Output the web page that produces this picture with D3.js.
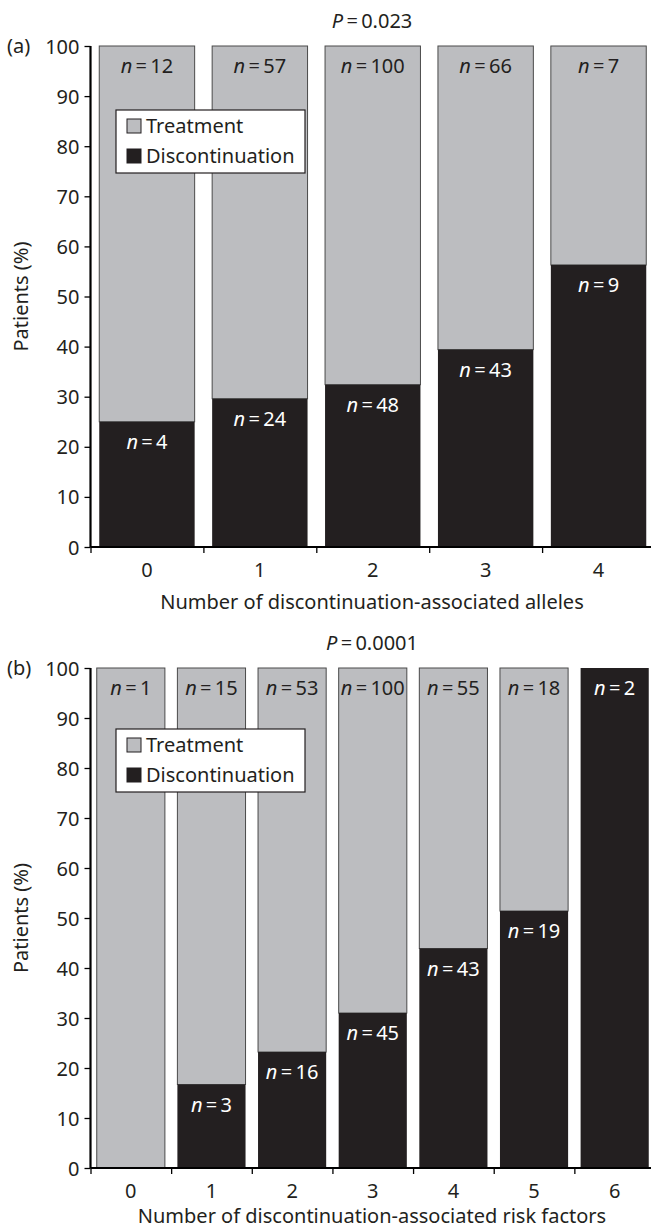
<!DOCTYPE html>
<html>
<head>
<meta charset="utf-8">
<script src="https://cdn.jsdelivr.net/npm/d3@7"></script>
<style>
  body { margin: 0; background: #fff; }
  svg text { font-family: "Noto Sans", "Open Sans", sans-serif; fill: #231f20; }
</style>
</head>
<body>
<svg id="chart" width="651" height="1230"></svg>
<script>
// panel (a): alleles
const allelesCategories = ["0", "1", "2", "3", "4"];
const allelesDiscontinuation = [25, 29.6, 32.4, 39.4, 56.3];
const allelesTreatmentN = [12, 57, 100, 66, 7];
const allelesDiscontinuationN = [4, 24, 48, 43, 9];

// panel (b): risk factors
const riskCategories = ["0", "1", "2", "3", "4", "5", "6"];
const riskDiscontinuation = [0, 16.7, 23.2, 31.0, 43.9, 51.4, 100];
const riskTreatmentN = [1, 15, 53, 100, 55, 18, null];
const riskDiscontinuationN = [null, 3, 16, 45, 43, 19, 2];

const yTicks = [0, 10, 20, 30, 40, 50, 60, 70, 80, 90, 100];
const legendLabels = ["Treatment", "Discontinuation"];

const grey = "#bcbdc0", black = "#231f20";
const eq = "\u2009=\u2009";

const svg = d3.select("#chart");

function nLabel(sel, n) {
  sel.append("tspan").attr("font-style", "italic").text("n");
  sel.append("tspan").text(eq + n);
}

function drawPanel(opt) {
  const g = svg.append("g");
  let x = d3.scaleBand()
      .domain(opt.categories)
      .range([90.5, 655])
      .paddingInner(0.155)
      .paddingOuter(0.0775);
  let xb = d3.scaleLinear().domain([0, opt.categories.length]).range([90.5, 655]);
  let y = d3.scaleLinear().domain([0, 100]).range([opt.bottom, opt.top]);

  let rows = opt.categories.map((c, i) => ({
    cat: c, disc: opt.disc[i], tn: opt.treatN[i], dn: opt.discN[i]
  }));

  // treatment (grey) part
  g.selectAll(".treat")
    .data(rows.filter(d => d.disc < 100))
    .enter().append("rect")
    .attr("x", d => x(d.cat))
    .attr("width", x.bandwidth())
    .attr("y", y(100))
    .attr("height", d => y(d.disc) - y(100))
    .attr("fill", grey)
    .attr("stroke", "#4a4a4a")
    .attr("stroke-width", 1);

  // discontinuation (black) part
  g.selectAll(".disc")
    .data(rows.filter(d => d.disc > 0))
    .enter().append("rect")
    .attr("x", d => x(d.cat))
    .attr("width", x.bandwidth())
    .attr("y", d => y(d.disc))
    .attr("height", d => y(0) - y(d.disc))
    .attr("fill", black);

  // n labels
  g.selectAll(".tn")
    .data(rows.filter(d => d.tn != null))
    .enter().append("text")
    .attr("x", d => x(d.cat) + x.bandwidth() / 2)
    .attr("y", y(100) + 27)
    .attr("text-anchor", "middle")
    .attr("font-size", 20)
    .each(function(d) { nLabel(d3.select(this), d.tn); });

  g.selectAll(".dn")
    .data(rows.filter(d => d.dn != null))
    .enter().append("text")
    .attr("x", d => x(d.cat) + x.bandwidth() / 2)
    .attr("y", d => y(d.disc) + 27)
    .attr("text-anchor", "middle")
    .attr("font-size", 20)
    .style("fill", "#fff")
    .each(function(d) { nLabel(d3.select(this), d.dn); });

  // axes
  let ya = g.append("g")
    .attr("transform", "translate(90.5,0)")
    .call(d3.axisLeft(y).tickValues(yTicks).tickSize(6).tickPadding(5));
  ya.select(".domain").attr("stroke-width", 2.2).attr("d", "M0," + y(0) + "V" + y(100));
  ya.selectAll(".tick line").attr("stroke-width", 1.3);
  ya.selectAll("text").attr("font-size", 20).attr("dy", "0.35em");

  let xa = g.append("g")
    .attr("transform", "translate(0," + opt.bottom + ")")
    .call(d3.axisBottom(xb).tickValues(d3.range(opt.categories.length + 1)).tickSize(6).tickFormat(""));
  xa.select(".domain").attr("stroke-width", 2.2).attr("d", "M90.5,0H655");
  xa.selectAll(".tick line").attr("stroke-width", 1.3);

  g.selectAll(".xlab")
    .data(opt.categories)
    .enter().append("text")
    .attr("x", d => x(d) + x.bandwidth() / 2)
    .attr("y", opt.bottom + 30)
    .attr("text-anchor", "middle")
    .attr("font-size", 20)
    .text(d => d);

  g.append("text")
    .attr("x", 372)
    .attr("y", opt.bottom + opt.titleGap)
    .attr("text-anchor", "middle")
    .attr("font-size", 20)
    .text(opt.title);

  let p = g.append("text")
    .attr("x", 372)
    .attr("y", opt.top - opt.pGap)
    .attr("text-anchor", "middle")
    .attr("font-size", 20);
  p.append("tspan").attr("font-style", "italic").text("P");
  p.append("tspan").text(eq + opt.p);

  g.append("text")
    .attr("x", 7)
    .attr("y", opt.top + 7)
    .attr("font-size", 20)
    .text(opt.panel);

  g.append("text")
    .attr("transform", "translate(28," + (opt.top + opt.bottom) / 2 + ") rotate(-90)")
    .attr("text-anchor", "middle")
    .attr("font-size", 20)
    .text("Patients (%)");

  // legend
  let lg = g.append("g").attr("transform", "translate(116," + (opt.top + opt.legendGap) + ")");
  lg.append("rect").attr("width", 189).attr("height", 63)
    .attr("fill", "#fff").attr("stroke", "#231f20").attr("stroke-width", 1.2);
  legendLabels.forEach((l, i) => {
    lg.append("rect")
      .attr("x", 11).attr("y", 9 + i * 30)
      .attr("width", 14).attr("height", 14)
      .attr("fill", i == 0 ? grey : black)
      .attr("stroke", "#231f20").attr("stroke-width", 1);
    lg.append("text")
      .attr("x", 30).attr("y", 23 + i * 30)
      .attr("font-size", 20)
      .text(l);
  });
}

drawPanel({
  categories: allelesCategories, disc: allelesDiscontinuation,
  treatN: allelesTreatmentN, discN: allelesDiscontinuationN,
  top: 46, bottom: 547, titleGap: 62, pGap: 18, legendGap: 64,
  title: "Number of discontinuation-associated alleles", p: "0.023", panel: "(a)"
});

drawPanel({
  categories: riskCategories, disc: riskDiscontinuation,
  treatN: riskTreatmentN, discN: riskDiscontinuationN,
  top: 668, bottom: 1168, titleGap: 55, pGap: 18, legendGap: 61,
  title: "Number of discontinuation-associated risk factors", p: "0.0001", panel: "(b)"
});
</script>
</body>
</html>
